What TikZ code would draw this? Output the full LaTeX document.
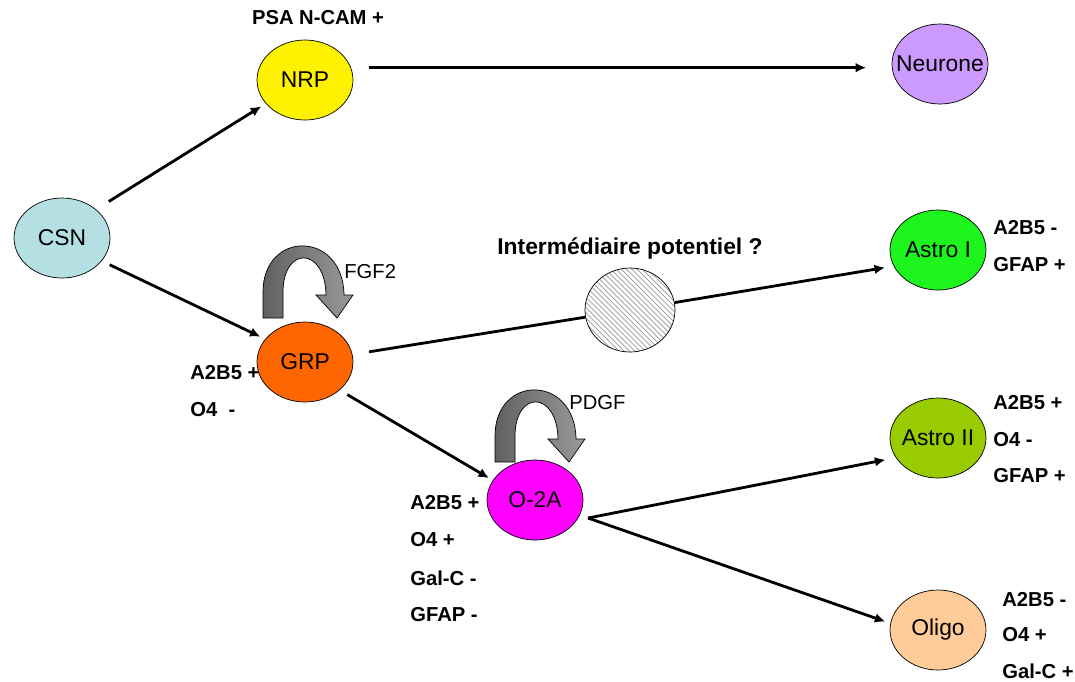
\documentclass[tikz,border=0pt]{standalone}
\usepackage{fontspec}
\setmainfont{Liberation Sans}
\usepackage{tikz}
\usetikzlibrary{arrows.meta, patterns, shapes.geometric}
\definecolor{csncol}{RGB}{180,224,228}
\definecolor{neucol}{RGB}{204,153,255}
\definecolor{grpcol}{RGB}{255,102,0}
\definecolor{astAcol}{RGB}{30,245,30}
\definecolor{astBcol}{RGB}{153,204,0}
\definecolor{o2acol}{RGB}{255,0,255}
\definecolor{oligocol}{RGB}{255,204,153}
\tikzset{
	cell/.style={ellipse, draw, thin, minimum width=1.92cm, minimum height=1.6cm, inner sep=0pt, font=\fontsize{13}{15}\selectfont},
	link/.style={line width=1.6pt, -{Latex[length=6pt,width=5.5pt]}},
	tag/.style={anchor=west, inner sep=0pt, font=\fontsize{11.5}{13}\selectfont\bfseries},
	turnarrow/.pic={
		\shadedraw[left color=black!62, right color=black!40, thin]
			(0,0) -- (0,-26) .. controls (0,-88) and (80,-88) .. (81,-23)
			-- (90,-23) -- (74,0) -- (53,-23) -- (63,-23)
			.. controls (62,-72) and (20,-72) .. (20,-26) -- (20,0) -- cycle;
	}
}
\newcommand{\cl}[1]{\makebox[0pt]{#1}}

\begin{document}
\begin{tikzpicture}[x=0.02cm, y=-0.02cm]
	\useasboundingbox (0,0) rectangle (1075,681);
	% cells
	\node[cell, fill=csncol] (csn) at (62,238) {\cl{CSN}};
	\node[cell, fill=yellow] (nrp) at (305,80) {\cl{NRP}};
	\node[cell, fill=neucol] (neurone) at (940,64) {\cl{Neurone}};
	\node[cell, fill=grpcol] (grp) at (305,362) {\cl{GRP}};
	\node[cell, minimum width=1.8cm, minimum height=1.68cm, pattern=north west lines, pattern color=black!40] (inter) at (630,310) {};
	\node[cell, fill=astAcol] (astroI) at (938,250) {\cl{Astro I}};
	\node[cell, fill=astBcol] (astroII) at (938,438) {\cl{Astro II}};
	\node[cell, fill=o2acol] (o2a) at (535,500) {\cl{O-2A}};
	\node[cell, fill=oligocol] (oligo) at (938,630) {\cl{Oligo}};
	\coordinate (fork) at (588,518);
	% growth factors
	\pic at (263,318) {turnarrow};
	\pic at (495,462) {turnarrow};
	\node[tag, font=\fontsize{11.5}{13}\selectfont] (fgf) at (344,272) {FGF2};
	\node[tag, font=\fontsize{11.5}{13}\selectfont] (pdgf) at (569,403) {PDGF};
	% links
	\draw[link, shorten <=8.5pt, shorten >=3pt] (csn.40) -- (nrp.211);
	\draw[link, shorten <=5pt, shorten >=3pt] (csn.-30) -- (grp.150);
	\draw[link, shorten <=10pt, shorten >=14.5pt] (nrp.15) -- (nrp.15 -| neurone.west);
	\draw[line width=1.6pt, shorten <=9.5pt] (grp.9) -- (inter);
	\draw[link, shorten >=5pt] (inter) -- (astroI.200);
	\draw[link, shorten <=5pt, shorten >=2.5pt] (grp.-39) -- (o2a.155);
	\draw[link, shorten >=6pt] (fork) -- (astroII.205);
	\draw[link, shorten >=3pt] (fork) -- (oligo.172);
	% markers
	\node[tag, anchor=center] (psa) at (318,18) {PSA N-CAM +};
	\node[tag, anchor=center, font=\fontsize{13}{15}\selectfont\bfseries] (inter-t) at (630,248) {Intermédiaire potentiel ?};
	\node[tag] (grp-a) at (190,373) {A2B5 +};
	\node[tag] (grp-b) at (190,410) {O4\ \ -};
	\node[tag] (o2a-a) at (410,503) {A2B5 +};
	\node[tag] (o2a-b) at (410,540) {O4 +};
	\node[tag] (o2a-c) at (410,578) {Gal-C -};
	\node[tag] (o2a-d) at (410,615) {GFAP -};
	\node[tag] (astroI-a) at (993,228) {A2B5 -};
	\node[tag] (astroI-b) at (993,265) {GFAP +};
	\node[tag] (astroII-a) at (993,403) {A2B5 +};
	\node[tag] (astroII-b) at (993,440) {O4 -};
	\node[tag] (astroII-c) at (993,476) {GFAP +};
	\node[tag] (oligo-a) at (1002,600) {A2B5 -};
	\node[tag] (oligo-b) at (1002,635) {O4 +};
	\node[tag] (oligo-c) at (1002,671) {Gal-C +};
\end{tikzpicture}
\end{document}
